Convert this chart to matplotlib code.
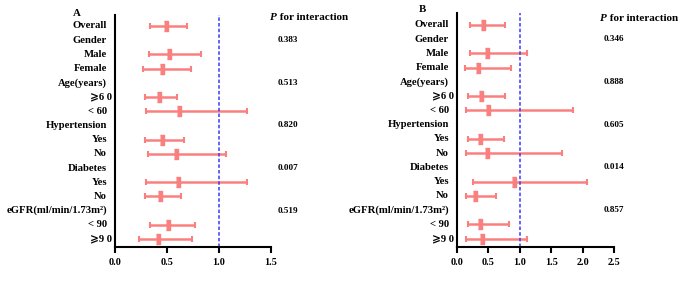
import numpy as np
import matplotlib
matplotlib.use("Agg")
import matplotlib.pyplot as plt

plt.rcParams['font.family'] = ['Liberation Serif', 'DejaVu Sans']
plt.rcParams['font.weight'] = 'bold'

labels = ["Overall", "Gender", "Male", "Female", "Age(years)", "⩾6 0", "< 60",
          "Hypertension", "Yes", "No", "Diabetes", "Yes", "No",
          "eGFR(ml/min/1.73m²)", "< 90", "⩾9 0"]
nan = np.nan

# panel A: point estimate, lower, upper
a_est = [0.49, nan, 0.52, 0.45, nan, 0.42, 0.62, nan, 0.45, 0.59, nan, 0.61, 0.43, nan, 0.51, 0.41]
a_lo = [0.34, nan, 0.33, 0.27, nan, 0.29, 0.30, nan, 0.29, 0.32, nan, 0.30, 0.29, nan, 0.34, 0.23]
a_hi = [0.69, nan, 0.83, 0.73, nan, 0.60, 1.27, nan, 0.66, 1.07, nan, 1.27, 0.63, nan, 0.77, 0.74]
a_p = ["", "0.383", "", "", "0.513", "", "", "0.820", "", "", "0.007", "", "", "0.519", "", ""]

# panel B
b_est = [0.41, nan, 0.48, 0.34, nan, 0.38, 0.50, nan, 0.36, 0.48, nan, 0.90, 0.29, nan, 0.37, 0.40]
b_lo = [0.21, nan, 0.20, 0.13, nan, 0.18, 0.14, nan, 0.17, 0.14, nan, 0.26, 0.14, nan, 0.17, 0.14]
b_hi = [0.77, nan, 1.11, 0.86, nan, 0.77, 1.84, nan, 0.75, 1.67, nan, 2.07, 0.62, nan, 0.83, 1.11]
b_p = ["", "0.346", "", "", "0.888", "", "", "0.605", "", "", "0.014", "", "", "0.857", "", ""]

W, H = 685, 283
fig = plt.figure(figsize=(W / 100, H / 100), dpi=100)

red = '#FA8080'
marker = [(-0.4, -1), (0.4, -1), (0.4, 1), (-0.4, 1)]


def panel(rect, est, lo, hi, pvals, xmax, xticks, ylim, letter, letter_xy,
          p_off, head_off, head_y):
    ax = fig.add_axes([rect[0] / W, 1 - rect[3] / H, (rect[1] - rect[0]) / W,
                       (rect[3] - rect[2]) / H])
    y = np.arange(len(labels))
    est = np.array(est)
    lo = np.array(lo)
    hi = np.array(hi)
    ok = ~np.isnan(est)
    ax.errorbar(est[ok], y[ok], xerr=[est[ok] - lo[ok], hi[ok] - est[ok]],
                fmt='none', ecolor=red, elinewidth=1.8, capsize=1.9, capthick=1.5)
    ax.plot(est[ok], y[ok], ls='none', marker=marker, ms=6.5, color=red, mec=red)
    ax.axvline(1.0, color='#3A3AF5', lw=1.1, ls=(0, (2.3, 1.4)))
    ax.set_xlim(0, xmax)
    ax.set_ylim(*ylim)
    ax.set_xticks(xticks)
    ax.set_xticklabels(["%.1f" % t for t in xticks], fontsize=7.3, fontweight='bold')
    ax.set_yticks([])
    for s in ['top', 'right']:
        ax.spines[s].set_visible(False)
    for s in ['left', 'bottom']:
        ax.spines[s].set_linewidth(1.5)
    ax.tick_params(axis='x', length=4, width=1.5, pad=4)
    for i, lab in enumerate(labels):
        off = -3 if lab.startswith("⩾") else -8
        ax.annotate(lab, xy=(0, i), xycoords=('axes fraction', 'data'),
                    xytext=(off, 0), textcoords='offset pixels',
                    ha='right', va='center', fontsize=7.7, fontweight='bold')
        if pvals[i]:
            ax.annotate(pvals[i], xy=(1, i), xycoords=('axes fraction', 'data'),
                        xytext=(p_off, 0), textcoords='offset pixels',
                        ha='center', va='center', fontsize=6.6, fontweight='bold')
    # header: italic P then the rest
    ax.annotate("P", xy=(1, head_y), xycoords=('axes fraction', 'data'),
                xytext=(head_off, 0), textcoords='offset pixels', ha='left',
                va='center', fontsize=8, fontweight='bold', fontstyle='italic')
    ax.annotate(" for interaction", xy=(1, head_y), xycoords=('axes fraction', 'data'),
                xytext=(head_off + 7, 0), textcoords='offset pixels', ha='left',
                va='center', fontsize=8, fontweight='bold')
    fig.text(letter_xy[0] / W, 1 - letter_xy[1] / H, letter, ha='center',
             va='center', fontsize=7.8, fontweight='bold')
    return ax


panel((115, 271, 15, 247), a_est, a_lo, a_hi, a_p, 1.5, [0, 0.5, 1.0, 1.5],
      (15.56, -0.77), "A", (77, 14), 17, -1, -0.56)
panel((457, 614, 13, 247), b_est, b_lo, b_hi, b_p, 2.5,
      [0, 0.5, 1.0, 1.5, 2.0, 2.5], (15.58, -0.84), "B", (422, 10), 0, -14, -0.42)

fig.savefig("out.png", dpi=100)
